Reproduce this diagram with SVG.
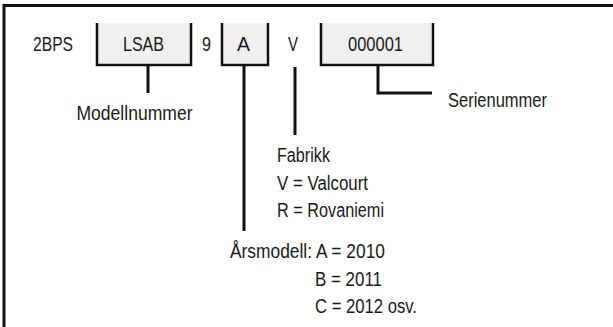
<svg xmlns="http://www.w3.org/2000/svg" width="613" height="327" viewBox="0 0 613 327">
<style>
text{font-family:"Liberation Sans",Arial,sans-serif;font-size:19.5px;fill:#1a1a1a}
.box{fill:#f0f0f0;stroke:none}
.edge{fill:none;stroke:#111;stroke-width:2.5}
.con{fill:none;stroke:#111;stroke-width:3}
</style>
<rect x="0" y="0" width="613" height="327" fill="#fff"/>
<path d="M4,327 V5.5 H613" fill="none" stroke="#111" stroke-width="3"/>
<g id="prefix"><text x="33" y="50.5" textLength="40" lengthAdjust="spacingAndGlyphs">2BPS</text></g>
<g id="lsab">
<rect class="box" x="97" y="23" width="94" height="42"/>
<path class="edge" d="M97,23 V65 H191 V23"/>
<text x="123" y="50.5" textLength="41" lengthAdjust="spacingAndGlyphs">LSAB</text>
</g>
<g id="nine"><text x="202" y="50.5" textLength="9" lengthAdjust="spacingAndGlyphs">9</text></g>
<g id="year">
<rect class="box" x="222" y="23" width="46" height="42"/>
<path class="edge" d="M222,23 V65 H268 V23"/>
<text x="237" y="50.5" textLength="13" lengthAdjust="spacingAndGlyphs">A</text>
</g>
<g id="factory"><text x="288" y="50.5" textLength="10" lengthAdjust="spacingAndGlyphs">V</text></g>
<g id="serial">
<rect class="box" x="321" y="23" width="112" height="42"/>
<path class="edge" d="M321,23 V65 H433 V23"/>
<text x="348" y="50.5" textLength="55" lengthAdjust="spacingAndGlyphs">000001</text>
</g>
<g id="connectors">
<path class="con" d="M148,65 V93"/>
<path class="con" d="M244,65 V231"/>
<path class="con" d="M295,67 V135"/>
<path class="con" d="M378,65 V93 H432"/>
</g>
<g id="label-model"><text x="76.5" y="120" textLength="116" lengthAdjust="spacingAndGlyphs">Modellnummer</text></g>
<g id="label-serial"><text x="448" y="107" textLength="99" lengthAdjust="spacingAndGlyphs">Serienummer</text></g>
<g id="label-factory">
<text x="277" y="161.5" textLength="53" lengthAdjust="spacingAndGlyphs">Fabrikk</text>
<text x="277" y="189.5" textLength="91" lengthAdjust="spacingAndGlyphs">V = Valcourt</text>
<text x="277" y="217" textLength="107" lengthAdjust="spacingAndGlyphs">R = Rovaniemi</text>
</g>
<g id="label-year">
<text x="230" y="258" textLength="155" lengthAdjust="spacingAndGlyphs">Årsmodell: A = 2010</text>
<text x="315" y="286" textLength="67" lengthAdjust="spacingAndGlyphs">B = 2011</text>
<text x="315" y="313" textLength="102" lengthAdjust="spacingAndGlyphs">C = 2012 osv.</text>
</g>
</svg>
